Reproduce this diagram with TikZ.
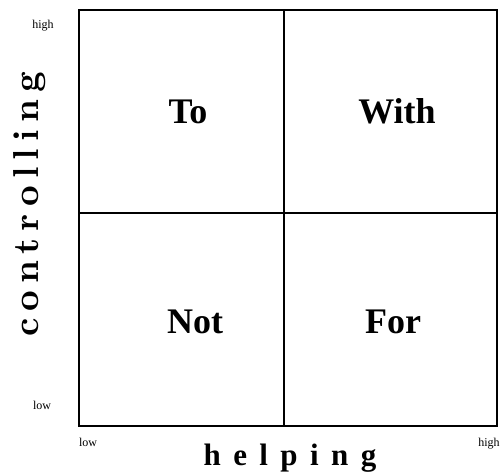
\documentclass[tikz,border=0pt]{standalone}
\usepackage{fontspec}
\setmainfont{Liberation Serif}
\newfontfamily\lmbold{lmroman10-bold}[Extension=.otf]
\usetikzlibrary{positioning}

\begin{document}
\begin{tikzpicture}[
  x=1pt, y=-1pt,
  quad/.style={anchor=base, font=\fontsize{36}{36}\selectfont\bfseries},
  tick/.style={anchor=base, font=\fontsize{12}{12}\selectfont},
  axish/.style={anchor=base, font=\fontsize{31}{31}\selectfont\bfseries\addfontfeature{LetterSpace=40}},
  axisv/.style={rotate=90, font=\fontsize{36}{36}\lmbold\addfontfeature{LetterSpace=20}},
  frame/.style={line width=2pt},
  split/.style={line width=1.2pt}
]
  \useasboundingbox (0,0) rectangle (503,474);

  % the square and its two dividing lines
  \coordinate (sw) at (79,426);
  \coordinate (ne) at (497,10);
  \coordinate (top) at (284,10);
  \coordinate (bot) at (284,426);
  \coordinate (lft) at (79,213);
  \coordinate (rgt) at (497,213);
  \draw[frame] (sw) rectangle (ne);
  \draw[split] (top) -- (bot);
  \draw[split] (lft) -- (rgt);

  % quadrant labels
  \node[quad] (to)   at (188,123) {To};
  \node[quad] (with) at (397,123) {With};
  \node[quad] (not)  at (195,333) {Not};
  \node[quad] (for)  at (393,333) {For};

  % axis ends
  \node[tick] (yhigh) at (43,28)  {high};
  \node[tick] (ylow)  at (42,409) {low};
  \node[tick] (xlow)  at (88,446) {low};
  \node[tick] (xhigh) at (489,446) {high};

  % axis names
  \node[axish] (helping) at (290,465) {helping};
  \node[axisv] (controlling) at (30,204.5) {controlling};
\end{tikzpicture}
\end{document}
